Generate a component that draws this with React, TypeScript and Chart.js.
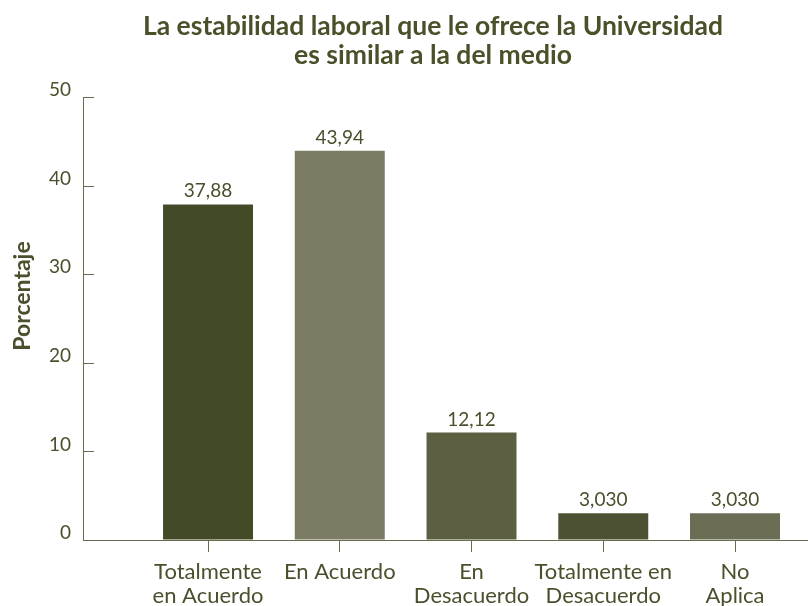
import React, { useEffect, useRef } from "react";
import { Chart, registerables } from "chart.js";

Chart.register(...registerables);

// ---- data ----
const TITLE_LINES = [
  "La estabilidad laboral que le ofrece la Universidad",
  "es similar a la del medio",
];
const Y_TITLE = "Porcentaje";
const CATEGORIES: string[][] = [
  ["Totalmente", "en Acuerdo"],
  ["En Acuerdo"],
  ["En", "Desacuerdo"],
  ["Totalmente en", "Desacuerdo"],
  ["No", "Aplica"],
];
const VALUES = [37.88, 43.94, 12.12, 3.03, 3.03];
const BAR_COLORS = ["#434a28", "#7b7c63", "#5d5f43", "#4c5134", "#6c6d55"];
const Y_MIN = 0;
const Y_MAX = 50;
const Y_STEP = 10;

// ---- styles ----
const FONT = "Lato, 'Open Sans', sans-serif";
const TEXT_COLOR = "#4a4f2c";
const TITLE_COLOR = "#4a5029";
const AXIS_COLOR = "#6a6c4e";

const formatValue = (v: number) => v.toPrecision(4).replace(".", ",");

const valueLabelPlugin = {
  id: "valueLabels",
  afterDatasetsDraw(chart: any) {
    const ctx = chart.ctx;
    const meta = chart.getDatasetMeta(0);
    ctx.save();
    ctx.font = `19px ${FONT}`;
    ctx.fillStyle = TEXT_COLOR;
    ctx.textAlign = "center";
    ctx.textBaseline = "alphabetic";
    meta.data.forEach((el: any, i: number) => {
      ctx.fillText(formatValue(VALUES[i]), el.x, el.y - 7);
    });
    ctx.restore();
  },
};

const innerTicksPlugin = {
  id: "innerYTicks",
  afterDraw(chart: any) {
    const ctx = chart.ctx;
    const y = chart.scales.y;
    const left = chart.chartArea.left;
    ctx.save();
    ctx.strokeStyle = AXIS_COLOR;
    ctx.lineWidth = 1;
    y.ticks.forEach((t: any) => {
      const py = Math.round(y.getPixelForValue(t.value)) + 0.5;
      ctx.beginPath();
      ctx.moveTo(left, py);
      ctx.lineTo(left + 11, py);
      ctx.stroke();
    });
    ctx.restore();
  },
};

const yTitlePlugin = {
  id: "yTitle",
  afterDraw(chart: any) {
    const ctx = chart.ctx;
    ctx.save();
    ctx.translate(23, 296);
    ctx.rotate(-Math.PI / 2);
    ctx.font = `bold 23px ${FONT}`;
    ctx.fillStyle = TEXT_COLOR;
    ctx.textAlign = "center";
    ctx.textBaseline = "middle";
    ctx.fillText(Y_TITLE, 0, 0);
    ctx.restore();
  },
};

const titleShiftPlugin = {
  id: "titleShift",
  afterLayout(chart: any) {
    const tb = chart.titleBlock;
    if (tb) {
      tb.left += 29;
      tb.right += 29;
    }
  },
};

export default function App() {
  const ref = useRef<HTMLCanvasElement | null>(null);

  useEffect(() => {
    document.body.style.margin = "0";
    if (!ref.current) return;
    const chart = new Chart(ref.current, {
      type: "bar",
      data: {
        datasets: [
          {
            data: VALUES.map((v, i) => ({ x: i, y: v })),
            backgroundColor: BAR_COLORS,
            borderWidth: 0,
            barPercentage: 0.683,
            categoryPercentage: 1,
          } as any,
        ],
      },
      options: {
        animation: false,
        responsive: true,
        maintainAspectRatio: false,
        layout: { padding: 0 },
        plugins: {
          legend: { display: false },
          tooltip: { enabled: false },
          title: {
            display: true,
            text: TITLE_LINES,
            color: TITLE_COLOR,
            font: { family: FONT, size: 26.5, weight: "bold", lineHeight: "29px" } as any,
            padding: { top: 12, bottom: 27 },
          },
        },
        scales: {
          x: {
            type: "linear",
            min: -0.949,
            max: 4.554,
            offset: false,
            afterBuildTicks: (scale: any) => {
              scale.ticks = CATEGORIES.map((_, i) => ({ value: i }));
            },
            afterFit: (scale: any) => {
              scale.height = 66;
            },
            ticks: {
              autoSkip: false,
              maxRotation: 0,
              minRotation: 0,
              padding: 8,
              color: TEXT_COLOR,
              font: { family: FONT, size: 22, lineHeight: "24px" } as any,
              callback: (v: any) => CATEGORIES[Math.round(Number(v))] ?? "",
            },
            grid: {
              offset: false,
              drawOnChartArea: false,
              drawTicks: true,
              tickLength: 12,
              color: AXIS_COLOR,
              lineWidth: 1,
            },
            border: { display: true, color: AXIS_COLOR, width: 1 },
          },
          y: {
            type: "linear",
            min: Y_MIN,
            max: Y_MAX,
            afterFit: (scale: any) => {
              scale.width = 83;
            },
            ticks: {
              stepSize: Y_STEP,
              padding: 12,
              labelOffset: -7,
              color: TEXT_COLOR,
              font: { family: FONT, size: 19 },
            },
            grid: { drawOnChartArea: false, drawTicks: false },
            border: { display: true, color: AXIS_COLOR, width: 1 },
          },
        },
      },
      plugins: [valueLabelPlugin, innerTicksPlugin, yTitlePlugin, titleShiftPlugin],
    });
    return () => chart.destroy();
  }, []);

  return (
    <div style={{ width: 808, height: 606, position: "relative" }}>
      <canvas ref={ref} />
    </div>
  );
}
